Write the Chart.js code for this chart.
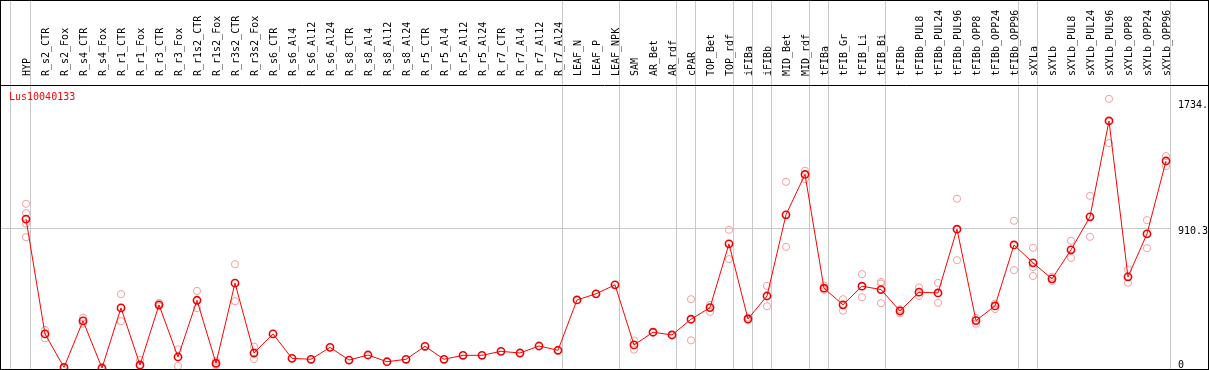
<!DOCTYPE html>
<html><head><meta charset="utf-8">
<script src="https://cdn.jsdelivr.net/npm/chart.js@4.4.1/dist/chart.umd.min.js"></script>
<style>
html,body{margin:0;padding:0;background:#fff;}
#wrap{position:absolute;left:0;top:0;width:1207px;height:368px;border:1px solid #000;}
canvas{display:block;}
</style></head><body>
<div id="wrap"><canvas id="c" width="1207" height="368"></canvas></div>
<script>
const geneName = 'Lus10040133';
const categories = ['HYP','R_s2_CTR','R_s2_Fox','R_s4_CTR','R_s4_Fox','R_r1_CTR','R_r1_Fox','R_r3_CTR','R_r3_Fox',
  'R_r1s2_CTR','R_r1s2_Fox','R_r3s2_CTR','R_r3s2_Fox','R_s6_CTR','R_s6_Al4','R_s6_Al12','R_s6_Al24',
  'R_s8_CTR','R_s8_Al4','R_s8_Al12','R_s8_Al24','R_r5_CTR','R_r5_Al4','R_r5_Al12','R_r5_Al24',
  'R_r7_CTR','R_r7_Al4','R_r7_Al12','R_r7_Al24','LEAF_N','LEAF_P','LEAF_NPK','SAM','AR_Bet','AR_rdf',
  'cPAR','TOP_Bet','TOP_rdf','iFIBa','iFIBb','MID_Bet','MID_rdf','tFIBa','tFIB_Gr','tFIB_Li','tFIB_Bi',
  'tFIBb','tFIBb_PUL8','tFIBb_PUL24','tFIBb_PUL96','tFIBb_OPP8','tFIBb_OPP24','tFIBb_OPP96',
  'sXYLa','sXYLb','sXYLb_PUL8','sXYLb_PUL24','sXYLb_PUL96','sXYLb_OPP8','sXYLb_OPP24','sXYLb_OPP96'];
const meanValues = [974,223,4,308,0,393,20,413,72,443,31,555,98,223,63,57,135,52,85,41,57,142,57,83,83,109,98,144,116,
  445,485,544,151,234,216,319,395,812,321,471,1002,1266,522,413,535,513,373,496,491,908,310,406,805,
  688,583,773,989,1616,596,877,1354];
const rep1 = [1074,249,2,329,0,483,52,426,122,504,46,679,140,null,null,null,null,null,null,null,null,null,null,null,null,null,null,null,null,
  null,null,null,120,null,null,450,413,904,330,537,1218,1290,539,450,614,563,358,526,557,1107,290,421,963,
  786,597,832,1126,1760,644,967,1386];
const rep2 = [1013,194,6,290,1,306,13,404,13,391,18,437,59,null,null,null,null,null,null,null,null,null,null,null,null,null,null,null,null,
  null,null,null,180,null,null,181,367,712,312,404,792,1236,511,375,463,552,384,472,426,705,327,386,640,
  661,570,720,858,1471,557,784,1321];
const rep3 = [945,null,null,null,null,null,null,null,null,null,null,null,null,null,null,null,null,null,null,null,null,null,null,null,null,null,null,null,null,
  null,null,null,null,null,null,null,null,null,null,null,null,null,null,null,null,424,null,null,null,null,null,null,null,
  602,null,null,null,null,null,null,null];
const rep4 = [856];
const groupBoundaries = [-0.83,0.25,28.25,31.25,34.25,35.25,37.25,38.25,39.25,41.25,42.25,45.25,52.25,53.25,60.25];
const yTickValues = [0, 910.3, 1734];
const yTickLabels = ['0', '910.3', '1734.'];

const X_MIN = -1.3158, X_MAX = 60.2632;
const FONT = {family: "'DejaVu Sans Mono', monospace", size: 10};

const meanData = meanValues.map((v, i) => ({x: i, y: v}));
const repData = [];
[rep1, rep2, rep3, rep4].forEach(arr => arr.forEach((v, i) => { if (v !== null && v !== undefined) repData.push({x: i, y: v}); }));

function noPad(s) { s.paddingLeft = 0; s.paddingRight = 0; s.paddingTop = 0; s.paddingBottom = 0; }

const framePlugin = {
  id: 'frame',
  afterDraw(chart) {
    const c = chart.ctx, a = chart.chartArea;
    c.save();
    c.strokeStyle = '#000'; c.lineWidth = 1;
    c.beginPath(); c.moveTo(0, a.top + 0.5); c.lineTo(chart.width, a.top + 0.5); c.stroke();
    c.fillStyle = '#ff0000';
    c.font = "10px 'DejaVu Sans Mono', monospace";
    c.textBaseline = 'middle'; c.textAlign = 'left';
    c.fillText(geneName, a.left + 8, a.top + 12.5);
    c.restore();
  }
};

new Chart(document.getElementById('c'), {
  type: 'line',
  data: {datasets: [
    {label: geneName, data: meanData, borderColor: '#ff0000', borderWidth: 1, tension: 0,
     pointRadius: 3.6, pointBorderWidth: 1.6, pointBorderColor: '#ee0000', pointBackgroundColor: 'rgba(0,0,0,0)', order: 0},
    {label: 'replicates', data: repData, showLine: false, pointRadius: 3.6, pointBorderWidth: 1,
     pointBorderColor: '#f2a0a0', pointBackgroundColor: 'rgba(0,0,0,0)', order: 1}
  ]},
  options: {
    responsive: false, animation: false, devicePixelRatio: 1,
    layout: {padding: 0, autoPadding: false},
    plugins: {legend: {display: false}, tooltip: {enabled: false}, title: {display: false}},
    scales: {
      x: {type: 'linear', position: 'top', min: X_MIN, max: X_MAX, weight: 1,
          afterBuildTicks: s => { s.ticks = categories.map((c, i) => ({value: i})); },
          afterFit: s => { s.height = 84; noPad(s); },
          ticks: {autoSkip: false, minRotation: 90, maxRotation: 90, padding: 1, font: FONT, color: '#000',
                  labelOffset: 13, callback: v => categories[v]},
          grid: {display: false}, border: {display: false}},
      sep: {type: 'linear', position: 'top', min: X_MIN, max: X_MAX, weight: 0,
          afterBuildTicks: s => { s.ticks = groupBoundaries.map(v => ({value: v})); },
          afterFit: s => { s.height = 0; noPad(s); },
          ticks: {display: false},
          grid: {color: '#c8c8c8', lineWidth: 1, drawTicks: true, tickLength: 84}, border: {display: false}},
      y: {type: 'linear', position: 'right', min: -6.5, max: 1851,
          afterBuildTicks: s => { s.ticks = yTickValues.map(v => ({value: v})); },
          afterFit: s => { s.width = 37; noPad(s); },
          ticks: {padding: 7, font: FONT, color: '#000', labelOffset: 3,
                  callback: v => { const l = yTickLabels[yTickValues.indexOf(v)]; return v === 0 ? [l, ''] : l; }},
          grid: {color: ctx => (ctx.tick && ctx.tick.value === 910.3) ? '#c8c8c8' : 'rgba(0,0,0,0)', drawTicks: false},
          border: {display: false}}
    }
  },
  plugins: [framePlugin]
});
</script>
</body></html>
